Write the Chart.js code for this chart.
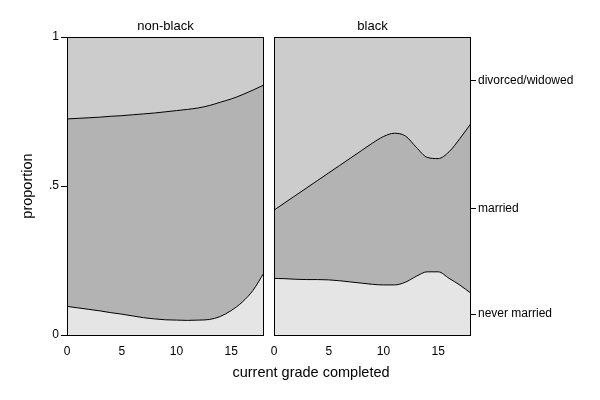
<!DOCTYPE html>
<html>
<head>
<meta charset="utf-8">
<script src="https://cdn.jsdelivr.net/npm/chart.js@4/dist/chart.umd.min.js"></script>
<style>
  body { margin: 0; background: #fff; }
  #wrap { position: relative; width: 600px; height: 400px; }
  canvas { position: absolute; left: 0; top: 0; }
  #xTitle {
    position: absolute; left: 0; width: 622px; top: 364px;
    text-align: center; font: 14.5px 'Liberation Sans', Arial, sans-serif;
    line-height: 17px; color: #000;
  }
</style>
</head>
<body>
<div id="wrap">
  <canvas id="nonBlackChart" width="600" height="400"></canvas>
  <canvas id="blackChart" width="600" height="400"></canvas>
  <div id="xTitle">current grade completed</div>
</div>
<script>
// current grade completed
const grades = [0, 1, 2, 3, 4, 5, 6, 7, 8, 9, 10, 11, 12, 13, 14, 15, 16, 17, 18]
const xTicks = [0, 5, 10, 15]
const yTicks = [0, 0.5, 1]
const yTickLabels = ['0', '.5', '1']
const panels = ['non-black', 'black']
const categories = ['never married', 'married', 'divorced/widowed']

// cumulative proportions: top edge of "never married", top edge of "never married + married"
const nonBlackNever = [0.096, 0.091, 0.086, 0.081, 0.075, 0.070, 0.064, 0.058, 0.054, 0.051, 0.050, 0.049, 0.050, 0.052, 0.062, 0.082, 0.110, 0.150, 0.209]
const nonBlackMarried = [0.725, 0.727, 0.729, 0.731, 0.734, 0.736, 0.739, 0.742, 0.745, 0.749, 0.753, 0.757, 0.762, 0.770, 0.781, 0.792, 0.806, 0.822, 0.839]
const blackNever = [0.190, 0.189, 0.187, 0.186, 0.186, 0.185, 0.182, 0.178, 0.174, 0.170, 0.168, 0.168, 0.177, 0.197, 0.212, 0.212, 0.190, 0.167, 0.140]
const blackMarried = [0.419, 0.444, 0.469, 0.494, 0.519, 0.544, 0.569, 0.594, 0.619, 0.644, 0.666, 0.677, 0.668, 0.630, 0.596, 0.592, 0.615, 0.660, 0.710]

const FONT = "'Liberation Sans', Arial, sans-serif"
const colors = { never: '#e5e5e5', married: '#b3b3b3', divorced: '#cccccc' }

const panelFrame = {
  id: 'panelFrame',
  beforeDraw(chart) {
    const a = chart.chartArea
    const ctx = chart.ctx
    ctx.save()
    ctx.fillStyle = colors.divorced
    ctx.fillRect(a.left, a.top, a.right - a.left, a.bottom - a.top)
    ctx.restore()
  },
  afterDraw(chart) {
    const a = chart.chartArea
    const ctx = chart.ctx
    ctx.save()
    ctx.strokeStyle = '#000'
    ctx.lineWidth = 1
    ctx.strokeRect(Math.round(a.left) + 0.5, Math.round(a.top) + 0.5, Math.round(a.right - a.left) - 1, Math.round(a.bottom - a.top))
    ctx.restore()
  }
}

function toPoints(values) {
  return grades.map((g, i) => ({ x: g, y: values[i] }))
}

function makeDatasets(never, married) {
  const line = { borderColor: '#000', borderWidth: 1, pointRadius: 0, cubicInterpolationMode: 'monotone' }
  return [
    { ...line, label: categories[0], data: toPoints(never), fill: 'origin', backgroundColor: colors.never },
    { ...line, label: categories[1], data: toPoints(married), fill: '-1', backgroundColor: colors.married }
  ]
}

function xScale() {
  return {
    type: 'linear',
    min: 0,
    max: 18,
    afterBuildTicks: (scale) => { scale.ticks = xTicks.map(v => ({ value: v })) },
    afterFit: (scale) => { scale.height = 65 },
    grid: { display: false, drawTicks: false },
    border: { display: false },
    ticks: { padding: 9, color: '#000', font: { family: FONT, size: 12 }, maxRotation: 0 }
  }
}

function panelTitle(text) {
  return {
    display: true,
    text: text,
    fullSize: false,
    color: '#000',
    font: { family: FONT, size: 13, weight: 'normal', lineHeight: 1.2 },
    padding: { top: 19, bottom: 2.4 }
  }
}

new Chart(document.getElementById('nonBlackChart'), {
  type: 'line',
  data: { datasets: makeDatasets(nonBlackNever, nonBlackMarried) },
  options: {
    responsive: false,
    animation: false,
    layout: { padding: { left: 0, right: 336, top: 0, bottom: 0 } },
    plugins: { legend: { display: false }, tooltip: { enabled: false }, title: panelTitle(panels[0]) },
    scales: {
      x: xScale(),
      y: {
        type: 'linear',
        min: 0,
        max: 1,
        afterBuildTicks: (scale) => { scale.ticks = yTicks.map(v => ({ value: v })) },
        afterFit: (scale) => { scale.width = 67 },
        grid: { drawOnChartArea: false, tickLength: 6, color: '#000' },
        border: { display: false },
        ticks: {
          padding: 2, color: '#000', font: { family: FONT, size: 12 },
          callback: (v, i) => yTickLabels[i]
        },
        title: {
          display: true, text: 'proportion', color: '#000',
          font: { family: FONT, size: 14.5 }, padding: { top: 19, bottom: 0 }
        }
      }
    }
  },
  plugins: [panelFrame]
})

// category labels sit in the middle of each band at the last grade of the black panel
const last = grades.length - 1
const bandMids = [
  blackNever[last] / 2,
  (blackNever[last] + blackMarried[last]) / 2,
  (blackMarried[last] + 1) / 2
]

new Chart(document.getElementById('blackChart'), {
  type: 'line',
  data: { datasets: makeDatasets(blackNever, blackMarried) },
  options: {
    responsive: false,
    animation: false,
    layout: { padding: { left: 274, right: 0, top: 0, bottom: 0 } },
    plugins: { legend: { display: false }, tooltip: { enabled: false }, title: panelTitle(panels[1]) },
    scales: {
      x: xScale(),
      y: {
        type: 'linear',
        position: 'right',
        min: 0,
        max: 1,
        afterBuildTicks: (scale) => { scale.ticks = bandMids.map(v => ({ value: v })) },
        afterFit: (scale) => { scale.width = 129 },
        grid: { drawOnChartArea: false, tickLength: 5, color: '#000' },
        border: { display: false },
        ticks: {
          autoSkip: false, padding: 2, color: '#000', font: { family: FONT, size: 12 },
          callback: (v, i) => categories[i]
        }
      }
    }
  },
  plugins: [panelFrame]
})
</script>
</body>
</html>
